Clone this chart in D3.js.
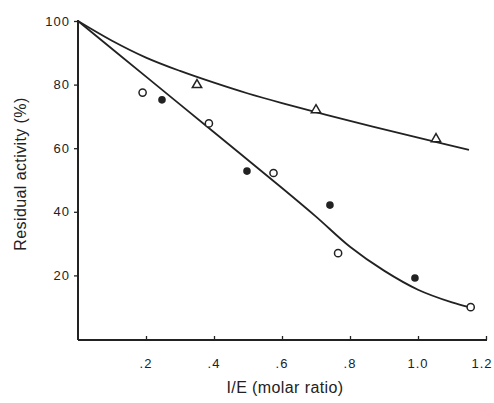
<!DOCTYPE html>
<html>
<head>
<meta charset="utf-8">
<script src="https://cdn.jsdelivr.net/npm/d3@7"></script>
<style>
  body { margin: 0; background: #fff; }
  text { font-family: "Liberation Sans", Arial, sans-serif; fill: #222; }
</style>
</head>
<body>
<svg id="chart" width="494" height="403"></svg>
<script>
// data
var openX = [0.19, 0.385, 0.575, 0.765, 1.155];
var openY = [77.5, 67.8, 52.2, 27, 10];
var filledX = [0.247, 0.497, 0.741, 0.991];
var filledY = [75.2, 52.8, 42.1, 19.2];
var triX = [0.35, 0.70, 1.053];
var triY = [79.9, 72, 62.9];

// fitted curves as drawn
var upperX = [0, 0.1, 0.2, 0.3, 0.4, 0.5, 0.6, 0.8, 1.0, 1.15];
var upperY = [100, 93.8, 88.5, 84.3, 80.6, 77.2, 74.2, 68.6, 63.3, 59.5];
var lowerX = [0, 0.2, 0.4, 0.6, 0.7, 0.8, 0.9, 1.0, 1.1, 1.15];
var lowerY = [100, 82.5, 65, 47.5, 38.5, 29, 21.5, 15.5, 11.5, 10];

var xTicks = [0.2, 0.4, 0.6, 0.8, 1.0, 1.2];
var xTickLabels = ['.2', '.4', '.6', '.8', '1.0', '1.2'];
var yTicks = [20, 40, 60, 80, 100];

var svg = d3.select('#chart');
var x = d3.scaleLinear().domain([0, 1.2]).range([78, 486]);
var y = d3.scaleLinear().domain([0, 100]).range([339, 21]);
var ink = '#222';

// axes
svg.append('g')
    .attr('transform', 'translate(0,340)')
    .call(d3.axisTop(x).tickValues(xTicks).tickSize(4).tickFormat(''))
    .call(function(g) { g.select('.domain').attr('stroke', ink).attr('stroke-width', 1.8).attr('d', 'M78,0H487'); })
    .call(function(g) { g.selectAll('.tick line').attr('stroke', ink).attr('stroke-width', 1.3); });

svg.append('g').selectAll('text')
    .data(xTicks)
    .enter().append('text')
    .attr('x', function(d) { return Math.min(x(d), 482); })
    .attr('y', 368)
    .attr('text-anchor', 'middle')
    .attr('font-size', 13)
    .attr('letter-spacing', 1)
    .text(function(d, i) { return xTickLabels[i]; });

svg.append('g')
    .attr('transform', 'translate(78,0)')
    .call(d3.axisLeft(y).tickValues(yTicks).tickSize(4).tickPadding(4))
    .call(function(g) { g.select('.domain').attr('stroke', ink).attr('stroke-width', 2).attr('d', 'M0,20V340'); })
    .call(function(g) { g.selectAll('.tick line').attr('stroke', ink).attr('stroke-width', 1.3); })
    .call(function(g) { g.selectAll('.tick text').attr('font-size', 13).attr('fill', ink)
        .attr('letter-spacing', 1)
        .attr('font-family', '"Liberation Sans", Arial, sans-serif'); });

// axis titles
svg.append('text')
    .attr('x', 285).attr('y', 393)
    .attr('text-anchor', 'middle')
    .attr('font-size', 16)
    .attr('letter-spacing', 0.4)
    .text('I/E (molar ratio)');

svg.append('text')
    .attr('transform', 'translate(26,174) rotate(-90)')
    .attr('text-anchor', 'middle')
    .attr('font-size', 16)
    .attr('letter-spacing', 0.4)
    .text('Residual activity (%)');

// curves
var line = d3.line()
    .x(function(d) { return x(d[0]); })
    .y(function(d) { return y(d[1]); })
    .curve(d3.curveCatmullRom);

svg.append('path')
    .datum(d3.zip(upperX, upperY))
    .attr('d', line)
    .attr('fill', 'none').attr('stroke', ink).attr('stroke-width', 1.8);

svg.append('path')
    .datum(d3.zip(lowerX, lowerY))
    .attr('d', line)
    .attr('fill', 'none').attr('stroke', ink).attr('stroke-width', 1.8);

// markers
svg.append('g').selectAll('circle')
    .data(d3.zip(openX, openY))
    .enter().append('circle')
    .attr('cx', function(d) { return x(d[0]); })
    .attr('cy', function(d) { return y(d[1]); })
    .attr('r', 3.6)
    .attr('fill', '#fff').attr('stroke', ink).attr('stroke-width', 1.5);

svg.append('g').selectAll('circle')
    .data(d3.zip(filledX, filledY))
    .enter().append('circle')
    .attr('cx', function(d) { return x(d[0]); })
    .attr('cy', function(d) { return y(d[1]); })
    .attr('r', 3.8)
    .attr('fill', ink);

svg.append('g').selectAll('path')
    .data(d3.zip(triX, triY))
    .enter().append('path')
    .attr('transform', function(d) { return 'translate(' + x(d[0]) + ',' + y(d[1]) + ')'; })
    .attr('d', d3.symbol().type(d3.symbolTriangle).size(38))
    .attr('fill', '#fff').attr('stroke', ink).attr('stroke-width', 1.5);
</script>
</body>
</html>
